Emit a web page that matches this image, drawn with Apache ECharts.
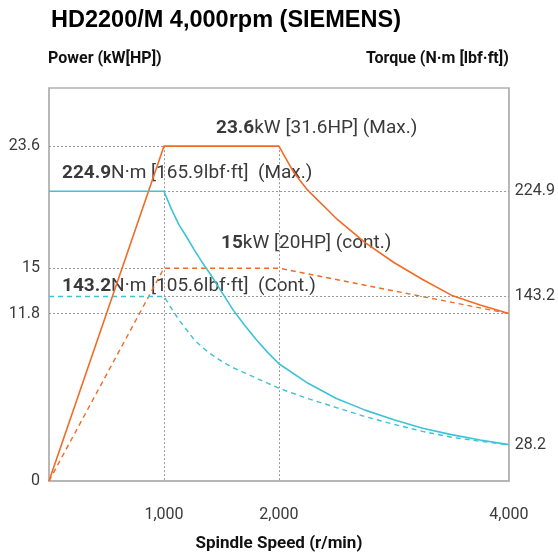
<!DOCTYPE html>
<html>
<head>
<meta charset="utf-8">
<script src="https://cdn.jsdelivr.net/npm/echarts@6/dist/echarts.min.js"></script>
<style>
  html,body{margin:0;padding:0;background:#fff;}
  #chart{width:558px;height:557px;}
</style>
</head>
<body>
<div id="chart"></div>
<script>
// tick labels
const speedTicks = [1000, 2000, 4000];
const powerTicks = [0, 11.8, 15, 23.6];
const torqueTicks = [28.2, 143.2, 224.9];

// power (kW)
const speedPowerMax = [0, 1000, 2000, 2125, 2250, 2500, 2750, 3000, 3250, 3500, 3750, 4000];
const powerMax = [0, 23.6, 23.6, 21.8, 20.5, 18.5, 16.8, 15.4, 14.2, 13.1, 12.4, 11.8];
const speedPowerCont = [0, 1000, 2000, 3000, 4000];
const powerCont = [0, 15, 15, 13.4, 11.8];

// torque (N·m)
const speedTorque = [0, 1000, 1065, 1130, 1200, 1260, 1330, 1400, 1500, 1600, 1700, 1800, 1900, 2000,
    2250, 2500, 2750, 3000, 3250, 3500, 3750, 4000];
const torqueMax = [224.9, 224.9, 211, 199, 189, 180, 170, 161, 147, 133, 121, 110, 100, 91,
    76, 64, 55, 47.5, 41, 36, 31.8, 28.2];
const torqueCont = [143.2, 143.2, 134, 125, 117, 110, 104, 99, 93, 88, 84, 80, 76, 72,
    64, 57, 50, 44, 38.5, 34, 30.8, 28.2];

const ORANGE = '#F26B24';
const CYAN = '#3CC3D6';
const GRID = '#999';
const FRAME = '#b3b3b3';

const pairs = (xs, ys) => xs.map((x, i) => [x, ys[i]]);
const fmt = v => String(v).replace(/\B(?=(\d{3})+(?!\d))/g, ',');

const chart = echarts.init(document.getElementById('chart'));

const dotted = {type: [2, 2], color: GRID, width: 1};
const hLine = (y, x0, x1) => [{coord: [x0, y]}, {coord: [x1, y]}];

const annoStyle = {
    b: {fontFamily: 'Roboto', fontWeight: 'bold', fontSize: 19, color: '#111'},
    n: {fontFamily: 'Roboto', fontSize: 19, color: '#3a3a3a'}
};
const anno = (x, y, text) => ({
    type: 'text', left: x, top: y,
    style: {text: text, rich: annoStyle, fill: '#3a3a3a', font: '19px Roboto'}
});
const nameStyle = {fontFamily: 'Roboto', fontWeight: 'bold', fontSize: 16, color: '#111'};

chart.setOption({
    animation: false,
    title: {
        text: 'HD2200/M 4,000rpm (SIEMENS)',
        left: 46, top: 4,
        textStyle: {fontFamily: 'Liberation Sans', fontWeight: 'bold', fontSize: 23.5, color: '#000'}
    },
    grid: {
        left: 49, right: 46, top: 88, bottom: 67,
        show: true, borderColor: FRAME, borderWidth: 1.5
    },
    xAxis: {
        type: 'value', min: 0, max: 4000,
        name: 'Spindle Speed (r/min)', nameLocation: 'middle', nameGap: 54,
        nameTextStyle: Object.assign({}, nameStyle, {fontSize: 17}),
        axisLine: {show: true, lineStyle: {color: FRAME, width: 1.5}},
        axisTick: {show: false},
        splitLine: {show: false},
        axisLabel: {
            customValues: speedTicks, margin: 26,
            fontFamily: 'Roboto', fontSize: 16, color: '#3a3a3a',
            formatter: v => fmt(v)
        }
    },
    yAxis: [{
        type: 'value', min: 0, max: 27.7,
        name: 'Power (kW[HP])', nameGap: 21,
        nameTextStyle: Object.assign({}, nameStyle, {align: 'left', padding: [0, 0, 0, -1]}),
        axisLine: {show: true, lineStyle: {color: FRAME, width: 1.5}},
        axisTick: {show: false},
        splitLine: {show: false},
        axisLabel: {customValues: powerTicks, margin: 9, fontFamily: 'Roboto', fontSize: 16, color: '#3a3a3a'}
    }, {
        type: 'value', min: 0, max: 305, position: 'right',
        name: 'Torque (N·m [lbf·ft])', nameGap: 21,
        nameTextStyle: Object.assign({}, nameStyle, {align: 'right'}),
        axisLine: {show: true, lineStyle: {color: FRAME, width: 1.5}},
        axisTick: {show: false},
        splitLine: {show: false},
        axisLabel: {customValues: torqueTicks, margin: 6, fontFamily: 'Roboto', fontSize: 16, color: '#3a3a3a'}
    }],
    graphic: [
        anno(216, 119, '{b|23.6}{n|kW [31.6HP] (Max.)}'),
        anno(62, 164, '{b|224.9}{n|N·m [165.9lbf·ft]  (Max.)}'),
        anno(221, 234, '{b|15}{n|kW [20HP] (cont.)}'),
        anno(62, 277, '{b|143.2}{n|N·m [105.6lbf·ft]  (Cont.)}')
    ],
    series: [{
        name: 'Power Max', type: 'line', yAxisIndex: 0,
        data: pairs(speedPowerMax, powerMax),
        symbol: 'none',
        lineStyle: {color: ORANGE, width: 1.6}, z: 5,
        markLine: {
            silent: true, symbol: 'none', label: {show: false}, lineStyle: dotted,
            data: [
                hLine(powerTicks[3], 0, 1000),
                hLine(powerTicks[2], 0, 1000),
                hLine(powerTicks[1], 0, 4000),
                [{coord: [1000, powerTicks[3]]}, {coord: [1000, 0]}],
                [{coord: [2000, powerTicks[3]]}, {coord: [2000, 0]}]
            ]
        }
    }, {
        name: 'Power Cont', type: 'line', yAxisIndex: 0,
        data: pairs(speedPowerCont, powerCont),
        symbol: 'none',
        lineStyle: {color: ORANGE, width: 1.4, type: [5, 4]}, z: 4
    }, {
        name: 'Torque Max', type: 'line', yAxisIndex: 1,
        data: pairs(speedTorque, torqueMax),
        symbol: 'none',
        lineStyle: {color: CYAN, width: 1.6}, z: 5,
        markLine: {
            silent: true, symbol: 'none', label: {show: false}, lineStyle: dotted,
            data: [
                hLine(torqueTicks[2], 1000, 4000),
                hLine(torqueTicks[1], 1000, 4000)
            ]
        }
    }, {
        name: 'Torque Cont', type: 'line', yAxisIndex: 1,
        data: pairs(speedTorque, torqueCont),
        symbol: 'none',
        lineStyle: {color: CYAN, width: 1.4, type: [5, 4]}, z: 4
    }]
});

window.addEventListener('resize', function () {
    chart.resize();
});
</script>
</body>
</html>
